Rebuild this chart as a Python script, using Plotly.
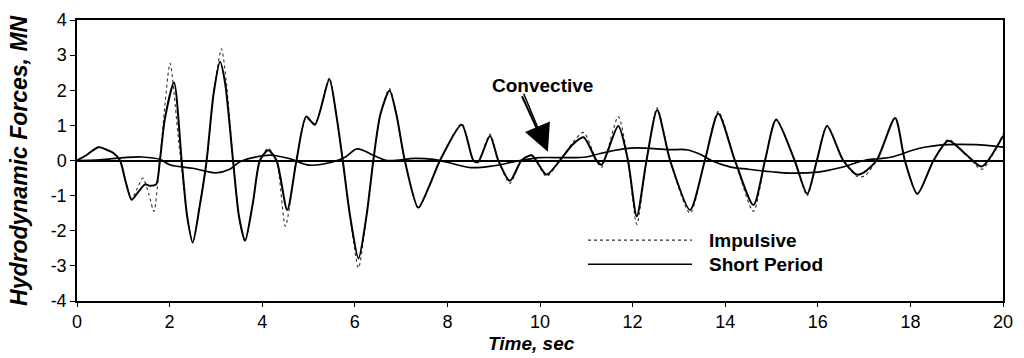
import plotly.graph_objects as go

# ---- data ----
t_short = [0, 0.2, 0.46, 0.65, 0.78, 0.93, 1.05, 1.18, 1.32, 1.47, 1.57, 1.71, 1.79, 1.9, 2.095, 2.26, 2.38, 2.5,
           2.65, 2.8, 2.95, 3.09, 3.2, 3.37, 3.5, 3.63, 3.8, 3.95, 4.13, 4.31, 4.54, 4.74, 4.95, 5.14, 5.45,
           5.6, 5.74, 5.9, 6.08, 6.25, 6.4, 6.55, 6.75, 6.9, 7.08, 7.37, 7.6, 7.84, 8.31, 8.56, 8.66, 8.92,
           9.1, 9.35, 9.6, 9.82, 10.14, 10.43, 10.7, 10.94, 11.22, 11.33, 11.69, 11.9, 12.09, 12.3, 12.53,
           12.81, 13.24, 13.56, 13.85, 14.21, 14.61, 14.86, 15.1, 15.5, 15.77, 15.98, 16.2, 16.55, 16.84,
           16.98, 17.27, 17.67, 17.88, 18.15, 18.5, 18.82, 19.22, 19.54, 20.0]
v_short = [0, 0.15, 0.38, 0.3, 0.22, 0.0, -0.6, -1.12, -0.9, -0.68, -0.72, -0.68, 0.0, 1.2, 2.22, 0.0, -1.6, -2.33,
           -1.3, 0.0, 1.9, 2.81, 2.2, 0.0, -1.6, -2.28, -1.2, 0.0, 0.29, 0.0, -1.41, 0.0, 1.25, 1.02, 2.31,
           1.3, 0.0, -1.6, -2.79, -1.6, 0.0, 1.3, 1.99, 1.3, 0.0, -1.34, -0.75, 0.0, 1.02, 0.0, -0.05, 0.7,
           0.0, -0.58, 0.0, 0.15, -0.4, 0.0, 0.45, 0.66, 0.0, -0.12, 0.98, 0.0, -1.59, 0.0, 1.44,
           0.0, -1.41, 0.0, 1.34, 0.0, -1.27, 0.0, 1.16, 0.0, -0.95, 0.0, 0.98, 0.0, -0.4,
           -0.35, 0.0, 1.21, 0.0, -0.95, 0.0, 0.56, 0.15, -0.17, 0.7]

t_imp = [0, 0.2, 0.46, 0.65, 0.78, 0.93, 1.05, 1.18, 1.3, 1.42, 1.55, 1.66, 1.79, 1.9, 2.01, 2.2, 2.38, 2.5,
         2.65, 2.8, 2.95, 3.12, 3.22, 3.37, 3.5, 3.63, 3.8, 3.95, 4.13, 4.31, 4.5, 4.74, 4.95, 5.14, 5.45,
         5.6, 5.74, 5.9, 6.08, 6.25, 6.4, 6.55, 6.75, 6.9, 7.08, 7.37, 7.6, 7.84, 8.31, 8.56, 8.66, 8.92,
         9.1, 9.35, 9.6, 9.82, 10.14, 10.43, 10.7, 10.94, 11.22, 11.33, 11.69, 11.9, 12.09, 12.3, 12.53,
         12.81, 13.24, 13.56, 13.85, 14.21, 14.61, 14.86, 15.1, 15.5, 15.77, 15.98, 16.2, 16.55, 16.84,
         17.0, 17.27, 17.67, 17.88, 18.15, 18.5, 18.82, 19.22, 19.54, 20.0]
v_imp = [0, 0.15, 0.38, 0.3, 0.22, 0.0, -0.6, -1.1, -0.8, -0.5, -0.95, -1.45, 0.0, 1.6, 2.77, 0.5, -1.6, -2.35,
         -1.3, 0.0, 1.9, 3.18, 2.3, 0.0, -1.6, -2.3, -1.2, 0.0, 0.35, 0.0, -1.87, 0.0, 1.2, 1.05, 2.35,
         1.3, 0.0, -1.6, -3.06, -1.6, 0.0, 1.3, 2.05, 1.3, 0.0, -1.36, -0.75, 0.0, 1.05, 0.0, -0.05, 0.75,
         0.0, -0.65, 0.0, 0.15, -0.45, 0.0, 0.5, 0.8, 0.0, -0.2, 1.25, 0.0, -1.82, 0.0, 1.5,
         0.0, -1.5, 0.0, 1.4, 0.0, -1.45, 0.0, 1.18, 0.0, -1.0, 0.0, 1.0, 0.0, -0.45,
         -0.45, 0.0, 1.22, 0.0, -0.95, 0.0, 0.6, 0.15, -0.25, 0.75]

t_conv = [0, 0.5, 1.0, 1.4, 1.8, 2.0, 2.5, 3.0, 3.3, 3.5, 3.8, 4.2, 4.6, 5.0, 5.5, 5.8, 6.05, 6.4, 6.7,
          7.3, 7.7, 8.0, 8.5, 9.0, 9.5, 10.0, 10.5, 11.0, 11.3, 11.8, 12.1, 12.8, 13.2, 13.5, 13.7, 14.1,
          14.5, 15.0, 15.4, 16.0, 16.5, 17.0, 17.3, 17.6, 18.2, 18.8, 19.4, 20.0]
v_conv = [0, 0.02, 0.08, 0.1, 0.03, -0.12, -0.22, -0.35, -0.25, -0.05, 0.08, 0.15, 0.05, -0.13, -0.05, 0.1, 0.33,
          0.15, 0.0, 0.06, 0.03, -0.05, -0.2, -0.15, -0.02, 0.08, 0.08, 0.1, 0.2, 0.33, 0.36, 0.31, 0.3, 0.15,
          0.0, -0.18, -0.25, -0.32, -0.36, -0.33, -0.2, 0.0, 0.05, 0.1, 0.35, 0.45, 0.45, 0.38]

x_ticks = [0, 2, 4, 6, 8, 10, 12, 14, 16, 18, 20]
y_ticks = [-4, -3, -2, -1, 0, 1, 2, 3, 4]

FONT = "Liberation Sans, Arial, Helvetica, sans-serif"

fig = go.Figure()
fig.add_trace(go.Scatter(x=t_conv, y=v_conv, mode="lines", name="Convective",
                         line=dict(color="black", width=1.7, shape="spline", smoothing=1.0),
                         showlegend=False))
fig.add_trace(go.Scatter(x=t_imp, y=v_imp, mode="lines", name="Impulsive",
                         line=dict(color="#333", width=1.1, dash="dot", shape="spline", smoothing=0.7),
                         showlegend=False))
fig.add_trace(go.Scatter(x=t_short, y=v_short, mode="lines", name="Short Period",
                         line=dict(color="black", width=2, shape="spline", smoothing=0.7),
                         showlegend=False))

# pixel -> paper helpers (plot area: x 77..1003, y 10..301)
def px2paper_x(px):
    return (px - 77) / 926.0

def py2paper_y(py):
    return (301 - py) / 291.0

# manual legend
fig.add_shape(type="line", xref="paper", yref="paper",
              x0=px2paper_x(588), x1=px2paper_x(692), y0=py2paper_y(238), y1=py2paper_y(238),
              line=dict(color="#333", width=1.1, dash="dot"))
fig.add_shape(type="line", xref="paper", yref="paper",
              x0=px2paper_x(588), x1=px2paper_x(692), y0=py2paper_y(263), y1=py2paper_y(263),
              line=dict(color="black", width=1.6))
fig.add_annotation(text="<b>Impulsive</b>", xref="paper", yref="paper",
                   x=px2paper_x(707), y=py2paper_y(238), xanchor="left", yanchor="middle",
                   showarrow=False, font=dict(family=FONT, size=19, color="black"))
fig.add_annotation(text="<b>Short Period</b>", xref="paper", yref="paper",
                   x=px2paper_x(707), y=py2paper_y(263), xanchor="left", yanchor="middle",
                   showarrow=False, font=dict(family=FONT, size=19, color="black"))

# Convective label + arrow (shaft as a shape, head as an annotation arrow)
fig.add_annotation(text="<b>Convective</b>", xref="paper", yref="paper",
                   x=px2paper_x(542), y=py2paper_y(78), xanchor="center", yanchor="middle",
                   showarrow=False, font=dict(family=FONT, size=19, color="black"))
fig.add_shape(type="line", xref="paper", yref="paper", layer="above",
              x0=px2paper_x(522), y0=py2paper_y(89), x1=px2paper_x(542), y1=py2paper_y(134),
              line=dict(color="black", width=2))
fig.add_annotation(text=" ", x=10.17, y=0.25, xref="x", yref="y",
                   ax=-25, ay=-60, showarrow=True, arrowhead=2, arrowsize=3.6, arrowwidth=1.5,
                   arrowcolor="black", font=dict(size=1))

# axis titles as annotations for precise placement
fig.add_annotation(text="<b><i>Time, sec</i></b>", xref="paper", yref="paper",
                   x=px2paper_x(531), y=py2paper_y(345), xanchor="center", yanchor="middle",
                   showarrow=False, font=dict(family=FONT, size=19, color="black"))
fig.add_annotation(text="<b><i>Hydrodynamic Forces, MN</i></b>", xref="paper", yref="paper",
                   x=px2paper_x(19), y=py2paper_y(156), xanchor="center", yanchor="middle",
                   textangle=-90, showarrow=False, font=dict(family=FONT, size=23, color="black"))

fig.update_layout(
    width=1024, height=358,
    margin=dict(l=77, r=21, t=10, b=57),
    paper_bgcolor="white", plot_bgcolor="white",
    font=dict(family=FONT, color="black"),
    xaxis=dict(range=[0, 20], tickvals=x_ticks, ticktext=[str(v) for v in x_ticks],
               showgrid=False, zeroline=False, showline=True, linecolor="black", linewidth=1.5,
               mirror=True, ticks="outside", ticklen=4, tickcolor="black",
               tickfont=dict(size=18, family=FONT)),
    yaxis=dict(range=[-4, 4], tickvals=y_ticks, ticktext=[str(v) for v in y_ticks],
               showgrid=False, zeroline=True, zerolinecolor="black", zerolinewidth=1.5,
               showline=True, linecolor="black", linewidth=1.5,
               mirror=True, ticks="outside", ticklen=5, tickcolor="black",
               tickfont=dict(size=18, family=FONT)),
)

fig.write_html("out.html")
